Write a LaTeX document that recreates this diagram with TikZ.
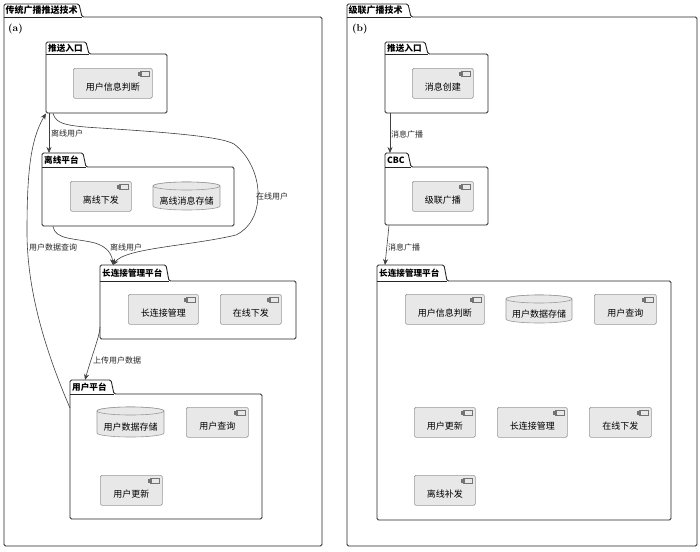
\documentclass[tikz,border=0pt]{standalone}
\usepackage{fontspec}
\newfontfamily\cjk{Noto Sans CJK SC}
\usetikzlibrary{arrows.meta}
\tikzset{
  x=1pt,y=-1pt,
  frame/.style={draw=black!85, line width=0.9pt, rounded corners=1.5pt},
  tabline/.style={draw=black!85, line width=0.9pt},
  pkgtitle/.style={font=\cjk\bfseries\fontsize{8.6}{9}\selectfont, inner sep=0, anchor=west},
  outertitle/.style={font=\cjk\bfseries\fontsize{9}{9}\selectfont, inner sep=0, anchor=west},
  compbox/.style={draw=black!40, fill=black!9, rounded corners=1.5pt, line width=0.6pt,
    inner sep=0, anchor=north west, font=\cjk\fontsize{9}{9}\selectfont, text height=15pt, text depth=1pt},
  iconline/.style={draw=black!55, line width=0.45pt, fill=black!9},
  cylbody/.style={draw=black!40, fill=black!9, line width=0.6pt},
  cyltext/.style={font=\cjk\fontsize{9}{9}\selectfont, inner sep=0},
  elabel/.style={font=\cjk\fontsize{8}{8}\selectfont, text=black!85, inner sep=0, anchor=west},
  arr/.style={draw=black!75, line width=0.6pt, -{Stealth[length=6pt,width=5pt,inset=2pt]}},
}
\newcommand\pkgbox[8]{%
  \draw[frame] (#2,#5) -- (#2,#3) -- (#4,#3) -- (#4+3,#5) -- (#6,#5) -- (#6,#7) -- (#2,#7) -- cycle;
  \draw[tabline] (#2,#5) -- (#4+3,#5);
  \node[pkgtitle] (#1-t) at (#2+2,{(#3+#5)/2}) {#8};
  \node[inner sep=0, minimum width={#6pt-#2pt}, minimum height={#7pt-#3pt}, anchor=north west] (#1) at (#2,#3) {};
}
\newcommand\outerbox[8]{%
  \draw[frame] (#2,#5) -- (#2,#3) -- (#4,#3) -- (#4+3,#5) -- (#6,#5) -- (#6,#7) -- (#2,#7) -- cycle;
  \draw[tabline] (#2,#5) -- (#4+3,#5);
  \node[outertitle] (#1-t) at (#2+1.5,{(#3+#5)/2}) {#8};
  \node[inner sep=0, minimum width={#6pt-#2pt}, minimum height={#7pt-#3pt}, anchor=north west] (#1) at (#2,#3) {};
}
\newcommand\compo[6]{%
  \node[compbox, minimum width={#4pt-#2pt}, minimum height={#5pt-#3pt}] (#1) at (#2,#3) {#6};
  \draw[iconline] (#4-12,#3+3) rectangle (#4-3,#3+8);
  \draw[iconline] (#4-14,#3+4) rectangle (#4-10.5,#3+5.2);
  \draw[iconline] (#4-14,#3+5.8) rectangle (#4-10.5,#3+7);
}
\newcommand\cylo[6]{%
  \pgfmathsetmacro\rx{(#4-#2)/2}%
  \filldraw[cylbody] (#2,#3+4) -- (#2,#5-4) arc[start angle=180,end angle=360,x radius=\rx pt,y radius=4pt]
     -- (#4,#3+4) arc[start angle=0,end angle=180,x radius=\rx pt,y radius=4pt] -- cycle;
  \draw[cylbody] ({(#2+#4)/2},#3+4) ellipse[x radius=\rx pt,y radius=4pt];
  \node[cyltext] (#1) at ({(#2+#4)/2},{(#3+#5)/2+5}) {#6};
}
\begin{document}
\begin{tikzpicture}
\fill[white] (0,0) rectangle (700,551);
\useasboundingbox (0,0) rectangle (700,551);

% ---------- left panel ----------
\outerbox{L0}{4}{4}{79}{17}{322}{546}{传统广播推送技术}
\node[font=\bfseries\fontsize{10}{10}\selectfont, inner sep=0, anchor=west] (la) at (8,29) {(a)};

\pkgbox{Lpush}{46}{42}{86}{54}{167}{113}{推送入口}
\compo{c1}{73}{68}{152}{98}{用户信息判断}

\pkgbox{Loff}{42}{153}{83}{167}{234}{226}{离线平台}
\compo{c2}{70}{181}{131}{211}{离线下发}
\cylo{c3}{153}{182}{220}{210}{离线消息存储}

\pkgbox{Llong}{100}{265}{166}{281}{296}{339}{长连接管理平台}
\compo{c4}{128}{294}{198}{324}{长连接管理}
\compo{c5}{220}{294}{281}{324}{在线下发}

\pkgbox{Luser}{70}{380}{111}{394}{262}{519}{用户平台}
\cylo{c6}{97}{407}{164}{437}{用户数据存储}
\compo{c7}{186}{407}{248}{437}{用户查询}
\compo{c8}{100}{475}{162}{505}{用户更新}

% connectors left
\draw[arr] ([xshift=3pt]Lpush.south west) -- ([xshift=7pt]Loff.north west);
\node[elabel] (l1) at (51,133) {离线用户};

\draw[arr] ([xshift=7pt]Lpush.south west)
   .. controls (56,124) and (66,126) .. (100,128)
   .. controls (160,132) and (220,136) .. (234,144)
   .. controls (250,156) and (259,178) .. (258,197)
   .. controls (257,215) and (250,228) .. (236,235)
   .. controls (190,246) and (125,248) .. ([xshift=13pt]Llong.north west);
\node[elabel] (l2) at (256,196) {在线用户};

\draw[arr] ([xshift=11pt]Loff.south west)
   .. controls (55,240) and (75,238) .. (95,243)
   .. controls (108,247) and (112,255) .. ([xshift=13pt]Llong.north west);
\node[elabel] (l3) at (110,247) {离线用户};

\draw[arr] ([yshift=-62pt]Llong.north west) .. controls (100,335) and (92,355) .. ([xshift=15pt]Luser.north west);
\node[elabel] (l4) at (93,360) {上传用户数据};

\draw[arr] ([yshift=-28pt]Luser.north west)
   .. controls (45,350) and (27,290) .. (27,232)
   .. controls (27,175) and (30,140) .. (Lpush.south west);
\node[elabel] (l5) at (29,247) {用户数据查询};

% ---------- right panel ----------
\outerbox{R0}{347}{4}{408}{17}{697}{546}{级联广播技术}
\node[font=\bfseries\fontsize{10}{10}\selectfont, inner sep=0, anchor=west] (lb) at (352,29) {(b)};

\pkgbox{Rpush}{385}{42}{425}{54}{488}{113}{推送入口}
\compo{d1}{412}{68}{473}{98}{消息创建}

\pkgbox{Rcbc}{385}{153}{408}{167}{488}{225}{CBC}
\compo{d2}{412}{181}{473}{211}{级联广播}

\pkgbox{Rlong}{377}{265}{444}{281}{671}{520}{长连接管理平台}
\compo{d3}{405}{294}{484}{324}{用户信息判断}
\cylo{d4}{506}{295}{572}{323}{用户数据存储}
\compo{d5}{594}{294}{656}{324}{用户查询}
\compo{d6}{414}{407}{475}{437}{用户更新}
\compo{d7}{497}{407}{567}{437}{长连接管理}
\compo{d8}{589}{407}{651}{437}{在线下发}
\compo{d9}{414}{475}{475}{505}{离线补发}

\draw[arr] ([xshift=5pt]Rpush.south west) -- ([xshift=5pt]Rcbc.north west);
\node[elabel] (r1) at (391,134) {消息广播};
\draw[arr] ([xshift=4pt]Rcbc.south west) -- ([xshift=8pt]Rlong.north west);
\node[elabel] (r2) at (388,247) {消息广播};
\end{tikzpicture}
\end{document}
